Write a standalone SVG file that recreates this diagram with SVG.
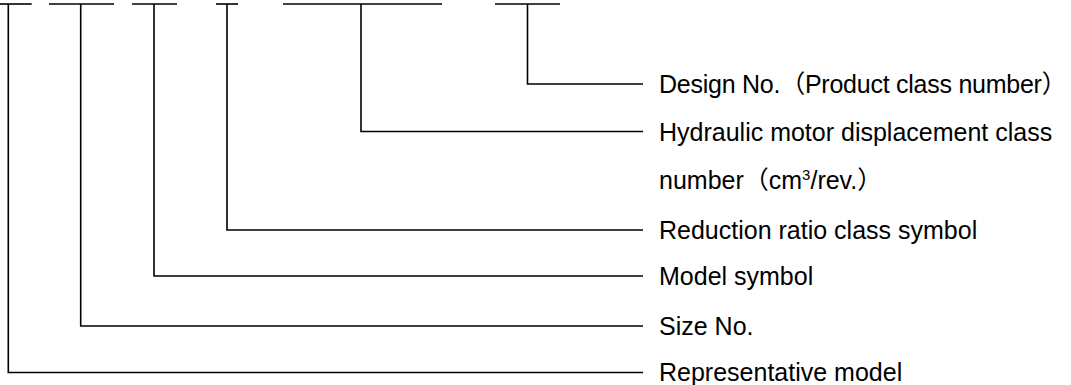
<svg xmlns="http://www.w3.org/2000/svg" width="1071" height="385" viewBox="0 0 1071 385">
<style>
.bar{stroke:#000;stroke-width:1.6;fill:none}
.con{stroke:#000;stroke-width:1.6;fill:none}
.lbl{font-family:"Liberation Sans","Noto Sans CJK JP",Arial,sans-serif;font-size:25px;fill:#000}
.sup{font-size:15px}
</style>
<rect width="1071" height="385" fill="#fff"/>
<g id="code-segments">
<g id="seg-representative"><line class="bar" x1="0" y1="4" x2="31.7" y2="4"/></g>
<g id="seg-size"><line class="bar" x1="49" y1="4" x2="114" y2="4"/></g>
<g id="seg-model"><line class="bar" x1="132" y1="4" x2="177" y2="4"/></g>
<g id="seg-reduction"><line class="bar" x1="216" y1="4" x2="238" y2="4"/></g>
<g id="seg-displacement"><line class="bar" x1="283" y1="4" x2="442" y2="4"/></g>
<g id="seg-design"><line class="bar" x1="495" y1="4" x2="560" y2="4"/></g>
</g>
<g id="connectors">
<polyline class="con" points="527.5,4 527.5,84 643,84"/>
<polyline class="con" points="361,4 361,131.5 643,131.5"/>
<polyline class="con" points="227,4 227,230 643,230"/>
<polyline class="con" points="154,4 154,276 643,276"/>
<polyline class="con" points="80.7,4 80.7,326 643,326"/>
<polyline class="con" points="8.3,4 8.3,372.5 643,372.5"/>
</g>
<g id="label-design"><text class="lbl" x="659" y="93" letter-spacing="-0.25">Design No.（Product class number）</text></g>
<g id="label-displacement"><text class="lbl" x="659" y="140.5">Hydraulic motor displacement class</text><text class="lbl" x="659" y="189">number（cm<tspan class="sup" dy="-9">3</tspan><tspan dy="9">/rev.）</tspan></text></g>
<g id="label-reduction"><text class="lbl" x="659" y="239">Reduction ratio class symbol</text></g>
<g id="label-model"><text class="lbl" x="659" y="285">Model symbol</text></g>
<g id="label-size"><text class="lbl" x="659" y="335">Size No.</text></g>
<g id="label-representative"><text class="lbl" x="659" y="381">Representative model</text></g>
</svg>
